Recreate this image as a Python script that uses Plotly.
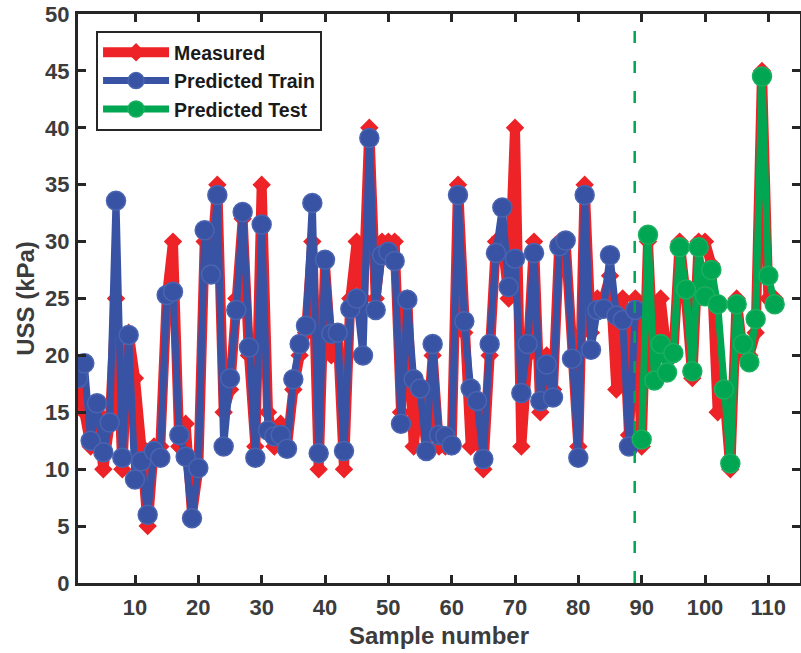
import plotly.graph_objects as go

# ---------------- data ----------------
sample_idx = list(range(1, 112))

measured = [17, 15, 12, 15, 10, 14, 25, 10, 22, 18,
            12, 5, 12, 12, 25, 30, 12, 14, 6, 10,
            30, 28, 35, 15, 17, 25, 32, 20, 12, 35,
            15, 12, 14, 12, 17, 20, 22, 30, 10, 28,
            20, 22, 10, 25, 30, 25, 40, 25, 30, 30,
            30, 15, 25, 12, 17, 12, 20, 12, 12, 12,
            35, 22, 12, 15, 10, 20, 30, 30, 25, 40,
            12, 20, 30, 15, 20, 17, 30, 30, 20, 12,
            35, 22, 25, 25, 27, 17, 25, 13, 25, 12,
            30, 18, 25, 20, 20, 30, 25, 18, 30, 30,
            28, 15, 17, 10, 25, 20, 20, 22, 45, 25,
            25]

pred_train = [18.0, 19.3, 12.5, 15.8, 11.5, 14.1, 33.6, 11.0, 21.8, 9.1,
              10.7, 6.0, 11.6, 11.0, 25.3, 25.6, 13.0, 11.1, 5.7, 10.1,
              31.0, 27.1, 34.1, 12.0, 18.0, 24.0, 32.6, 20.7, 11.0, 31.5,
              13.4, 12.9, 13.0, 11.8, 17.9, 21.0, 22.6, 33.4, 11.4, 28.4,
              21.9, 22.0, 11.6, 24.1, 25.0, 20.0, 39.1, 24.0, 28.8, 29.1,
              28.3, 14.0, 24.9, 17.9, 17.1, 11.6, 21.0, 13.0, 12.9, 12.1,
              34.1, 23.0, 17.1, 16.0, 10.9, 21.0, 29.0, 33.0, 26.0, 28.5,
              16.7, 21.0, 29.0, 16.0, 19.2, 16.3, 29.6, 30.1, 19.7, 11.0,
              34.1, 20.5, 24.0, 24.1, 28.8, 23.5, 23.1, 12.0, 24.0]

pred_test = [12.6, 30.6, 17.8, 21.0, 18.5, 20.2, 29.5, 25.8, 18.6, 29.5,
             25.2, 27.5, 24.5, 17.0, 10.5, 24.5, 21.0, 19.4, 23.2, 44.5,
             27.0, 24.5]

train_end = 89          # last training sample (split marker)
x_ticks = [10, 20, 30, 40, 50, 60, 70, 80, 90, 100, 110]
y_ticks = [0, 5, 10, 15, 20, 25, 30, 35, 40, 45, 50]

train_x = sample_idx[:train_end]
test_x = sample_idx[train_end:]

RED = "#ED2327"
BLUE = "#3953A4"
GREEN = "#00A651"
AX = "#262626"
TXT = "#3C3C3C"
FONT = "Liberation Sans"

fig = go.Figure()

fig.add_trace(go.Scatter(
    x=sample_idx, y=measured, name="Measured", mode="lines+markers",
    line=dict(color=RED, width=10),
    marker=dict(symbol="diamond", size=12, color=RED, line=dict(color=RED, width=2)),
))
fig.add_trace(go.Scatter(
    x=train_x, y=pred_train, name="Predicted Train", mode="lines+markers",
    line=dict(color=BLUE, width=7),
    marker=dict(symbol="circle", size=19, color=BLUE, line=dict(color="#4A64B0", width=1.5)),
))
fig.add_trace(go.Scatter(
    x=test_x, y=pred_test, name="Predicted Test", mode="lines+markers",
    line=dict(color=GREEN, width=7),
    marker=dict(symbol="circle", size=19, color=GREEN, line=dict(color="#1AB060", width=1.5)),
))

fig.add_shape(type="line", xref="x", yref="paper", x0=train_end - 0.1, x1=train_end - 0.1,
              y0=0, y1=0.985, line=dict(color=GREEN, width=2.5, dash="12px,18px"),
              layer="above")

axis_common = dict(
    showline=True, linewidth=3, linecolor=AX, mirror="ticks",
    ticks="inside", ticklen=8, tickwidth=3, tickcolor=AX,
    showgrid=False, zeroline=False, automargin=False,
    tickfont=dict(family=FONT, size=22, color=TXT, weight="bold"),
)

fig.update_xaxes(range=[1, 115], tickvals=x_ticks, ticklabelstandoff=3,
                 title=dict(text="Sample number", standoff=8,
                            font=dict(family=FONT, size=24, color=TXT, weight="bold")),
                 **axis_common)
fig.update_yaxes(range=[0, 50], tickvals=y_ticks, ticklabelstandoff=1,
                 title=dict(text="USS (kPa)", standoff=4,
                            font=dict(family=FONT, size=24, color=TXT, weight="bold")),
                 **axis_common)

fig.update_layout(
    template="none",
    width=801, height=653,
    margin=dict(l=78, r=1, t=14, b=70),
    plot_bgcolor="white", paper_bgcolor="white",
    legend=dict(x=0.025, y=0.97, xanchor="left", yanchor="top",
                bgcolor="white", bordercolor=AX, borderwidth=2,
                font=dict(family=FONT, size=19.5, color="#1A1A1A", weight="bold"),
                itemwidth=66, tracegroupgap=0),
    showlegend=True,
)

fig.write_html("out.html",
               config={"displayModeBar": False},
               post_script="document.body.style.margin='0px';document.body.style.padding='0px';")
